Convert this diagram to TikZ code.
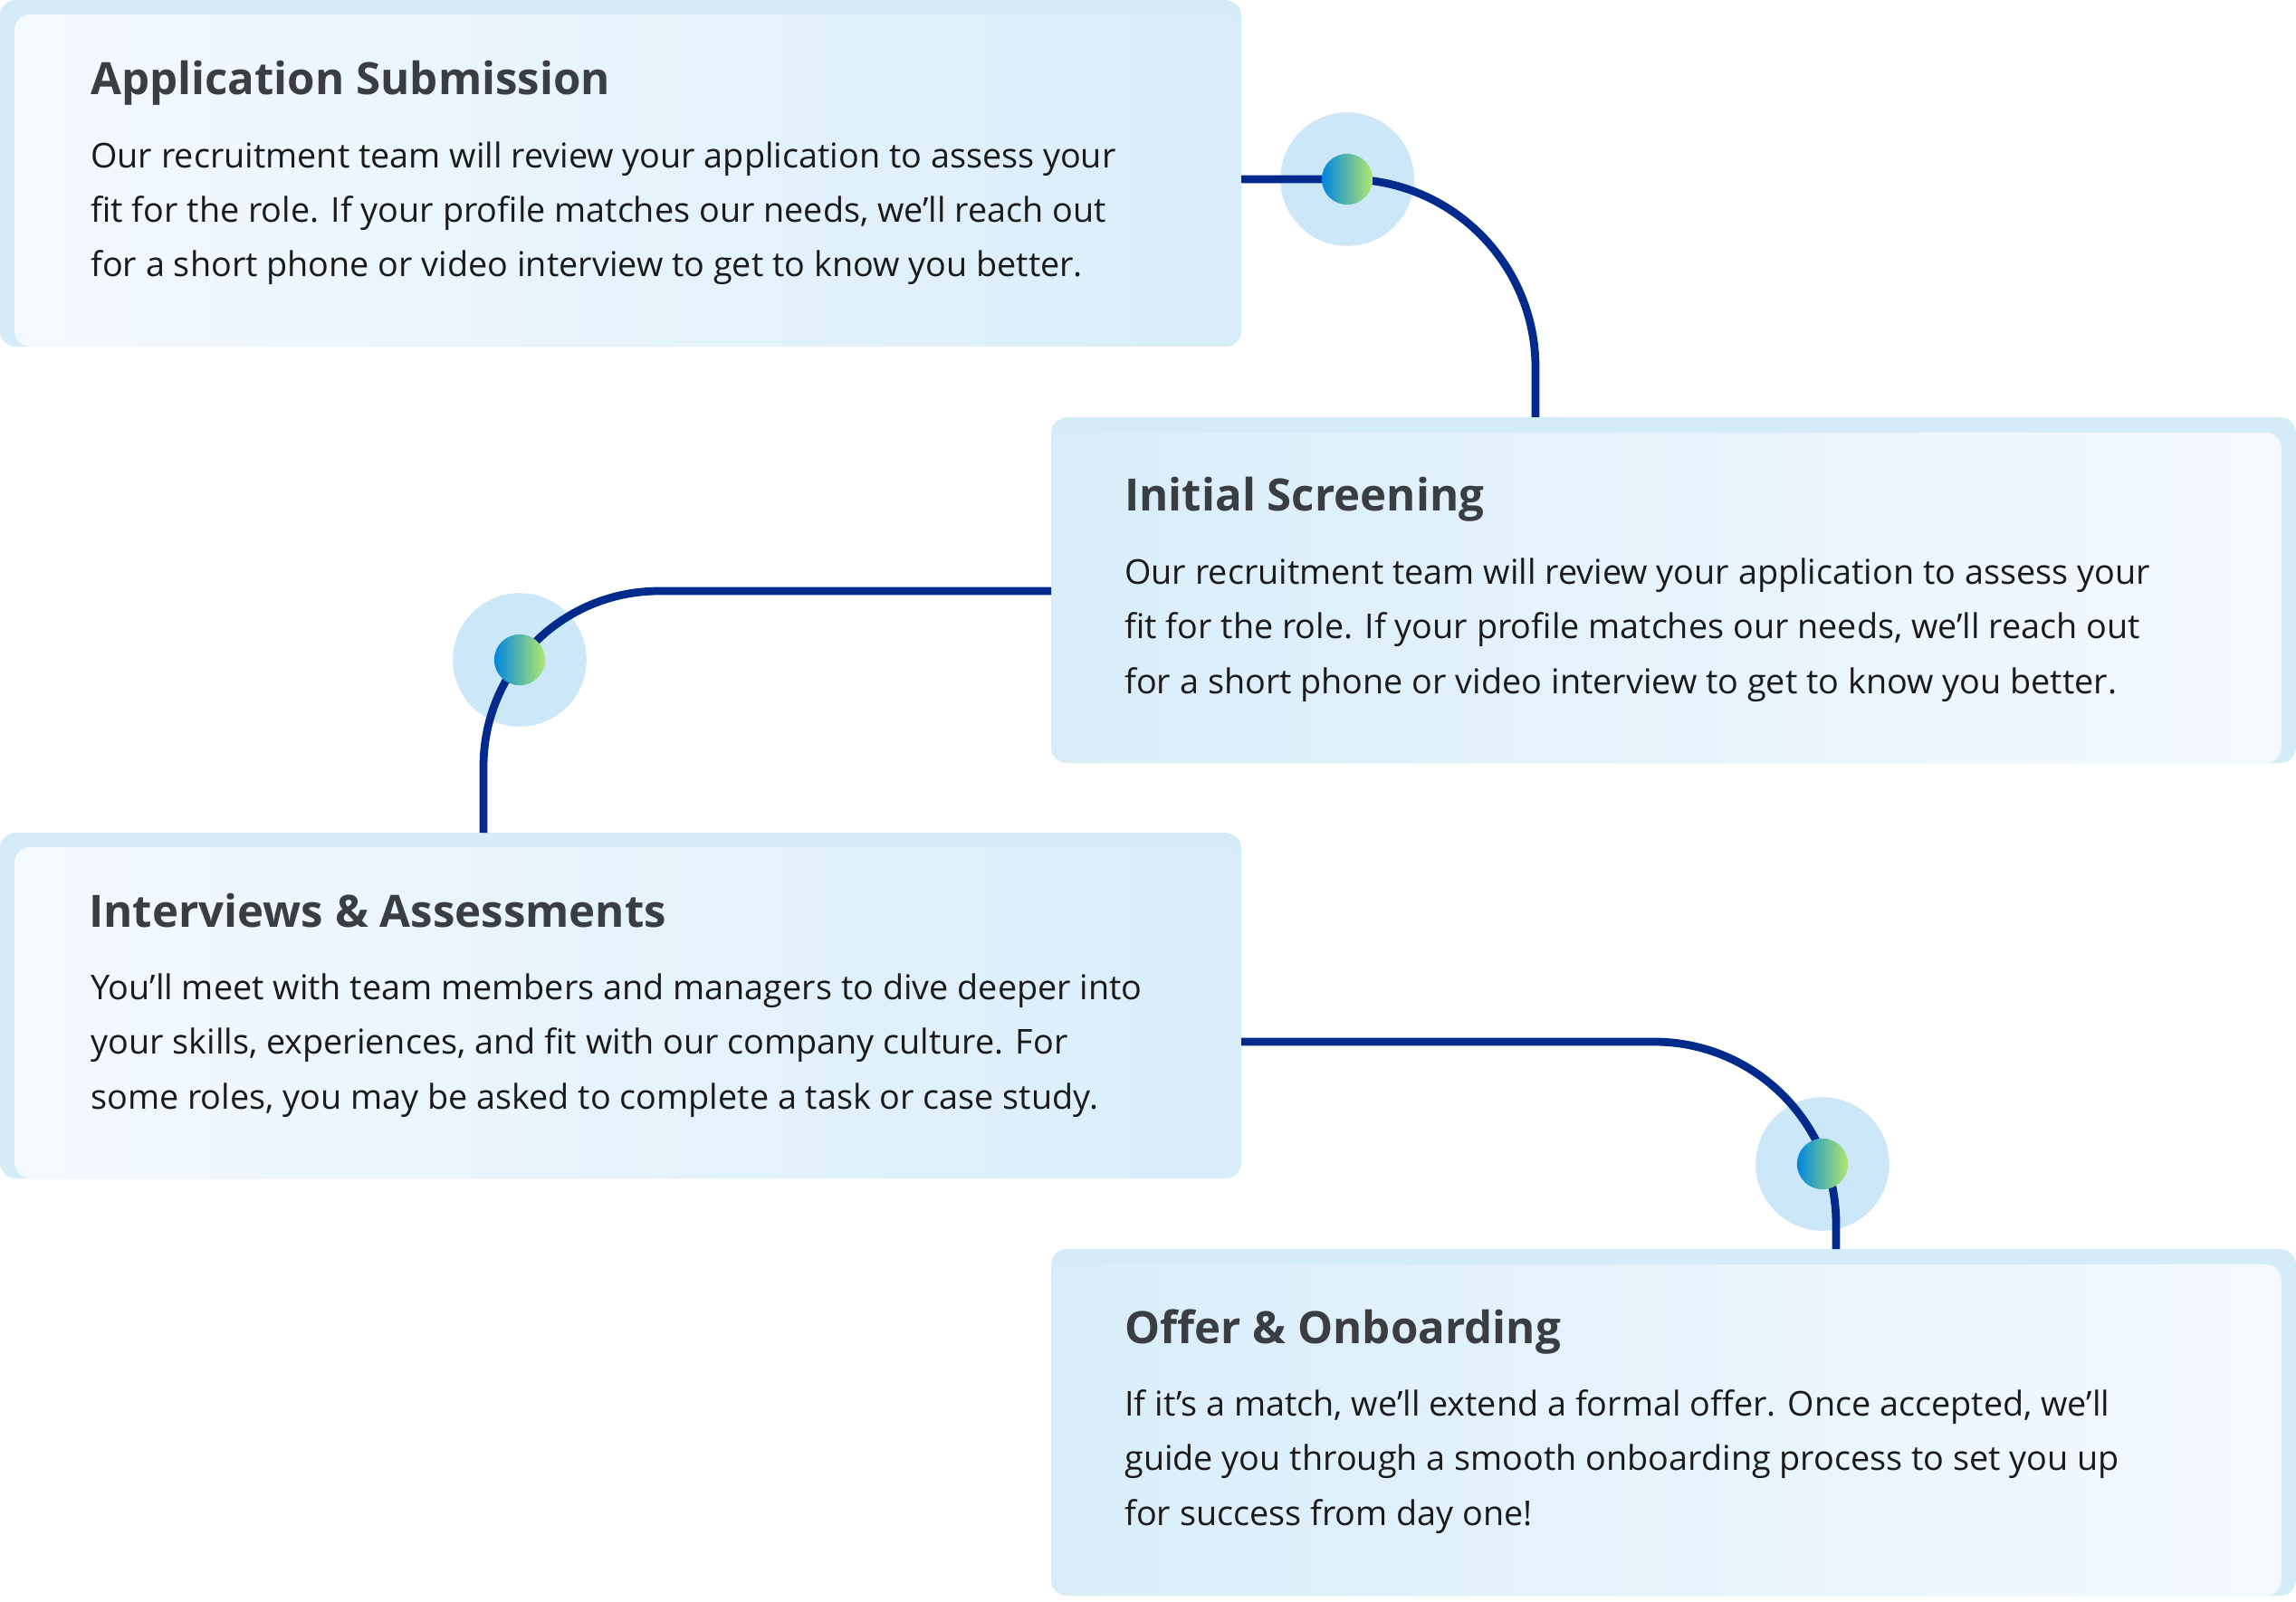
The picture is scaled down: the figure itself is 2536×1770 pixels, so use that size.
\documentclass[tikz,border=0pt]{standalone}
\usepackage{fontspec}
\setmainfont{Open Sans}
\begin{document}
\begin{tikzpicture}[x=0.02cm,y=-0.02cm,
  outer/.style={fill=frame,rounded corners=10pt,draw=none},
  title/.style={anchor=base west,inner sep=0,text=titlec,font=\fontsize{28}{34}\selectfont\bfseries},
  body/.style={anchor=base west,inner sep=0,align=left,text=bodyc,font=\fontsize{21.5}{34.2}\selectfont},
  link/.style={draw=linec,line width=5pt},
  halo/.style={circle,fill=haloc,minimum size=84pt,inner sep=0},
  dot/.style={circle,left color=dotl,right color=dotr,minimum size=32pt,inner sep=0}]
\definecolor{frame}{HTML}{D4EBF8}
\definecolor{light}{HTML}{F4F9FE}
\definecolor{dark}{HTML}{D8EDF9}
\definecolor{titlec}{HTML}{3A3D42}
\definecolor{bodyc}{HTML}{1A1A1A}
\definecolor{linec}{HTML}{002A8C}
\definecolor{haloc}{HTML}{CCE7F7}
\definecolor{dotl}{HTML}{0086E0}
\definecolor{dotr}{HTML}{B2E86E}
\useasboundingbox (0,0) rectangle (2536,1770);
% boxes
\fill[outer] (0,0) rectangle (1371,383);
\shade[rounded corners=10pt,left color=light,right color=dark] (16,16) rectangle (1371,383);
\fill[outer] (1161,461) rectangle (2536,843);
\shade[rounded corners=10pt,left color=dark,right color=light] (1161,478) rectangle (2520,843);
\fill[outer] (0,920) rectangle (1371,1302);
\shade[rounded corners=10pt,left color=light,right color=dark] (16,936) rectangle (1371,1302);
\fill[outer] (1161,1380) rectangle (2536,1763);
\shade[rounded corners=10pt,left color=dark,right color=light] (1161,1397) rectangle (2520,1763);
% texts
\node[title] (t1) at (100,105) {Application Submission};
\node[body] (b1) at (100,306) {Our recruitment team will review your application to assess your\\fit for the role. If your profile matches our needs, we'll reach out\\for a short phone or video interview to get to know you better.};
\node[title] (t2) at (1242,565) {Initial Screening};
\node[body] (b2) at (1242,766) {Our recruitment team will review your application to assess your\\fit for the role. If your profile matches our needs, we'll reach out\\for a short phone or video interview to get to know you better.};
\node[title] (t3) at (98,1024) {Interviews \& Assessments};
\node[body] (b3) at (100,1225) {You'll meet with team members and managers to dive deeper into\\your skills, experiences, and fit with our company culture. For\\some roles, you may be asked to complete a task or case study.};
\node[title] (t4) at (1242,1484) {Offer \& Onboarding};
\node[body] (b4) at (1242,1685) {If it's a match, we’ll extend a formal offer. Once accepted, we’ll\\guide you through a smooth onboarding process to set you up\\for success from day one!};
% halos
\node[halo] (h1) at (1488,198) {};
\node[halo] (h2) at (574,729) {};
\node[halo] (h3) at (2013,1286) {};
% connectors
\coordinate (s1) at (1371,198);
\coordinate (e1) at (1696,461);
\draw[link] (s1) -- (1488,198) arc[start angle=-90,end angle=0,radius=208] -- (e1);
\coordinate (s2) at (1161,653);
\coordinate (e2) at (534,920);
\draw[link] (s2) -- (728,653) arc[start angle=-90,end angle=-180,radius=194] -- (e2);
\coordinate (s3) at (1371,1151);
\coordinate (e3) at (2028,1380);
\draw[link] (s3) -- (1827,1151) arc[start angle=-90,end angle=0,radius=201] -- (e3);
% dots
\node[dot] (d1) at (h1) {};
\node[dot] (d2) at (h2) {};
\node[dot] (d3) at (h3) {};
\end{tikzpicture}
\end{document}
